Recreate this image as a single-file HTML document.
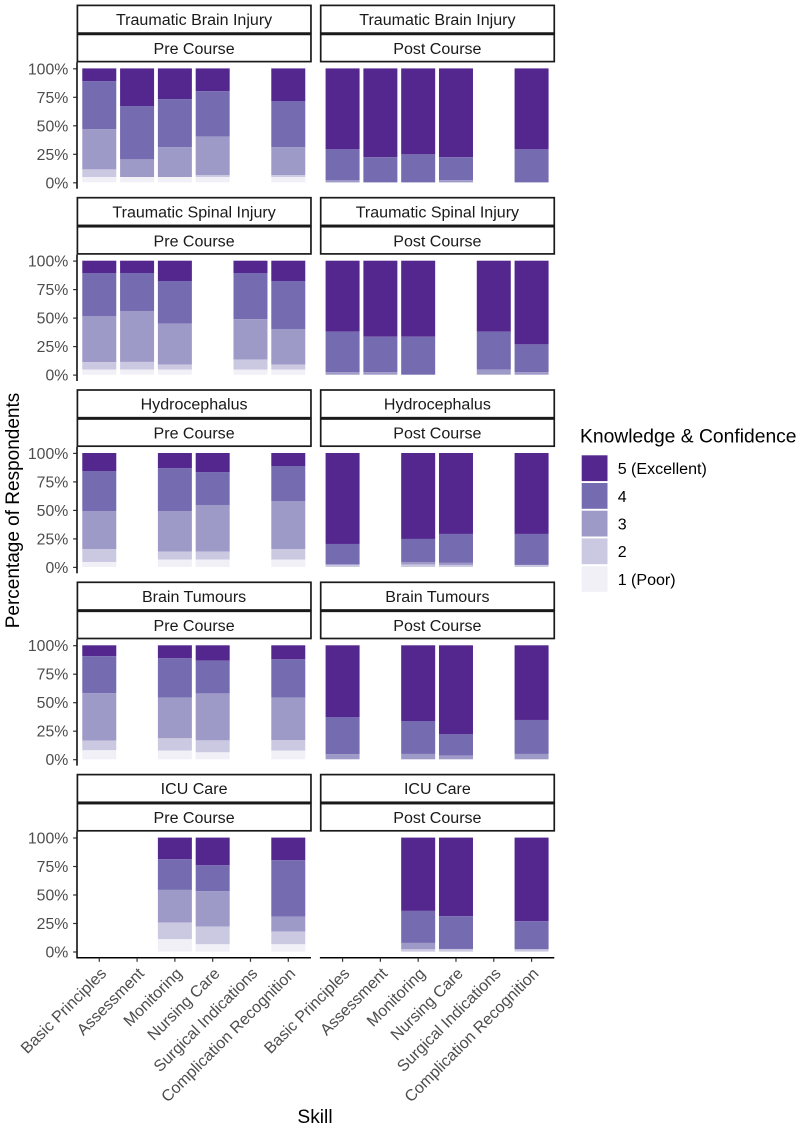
<!DOCTYPE html>
<html lang="en">
<head>
<meta charset="utf-8">
<title>Knowledge and confidence by skill, pre and post course</title>
<style>
html,body{margin:0;padding:0;background:#fff;}
svg{display:block;font-family:"Liberation Sans",Arial,sans-serif;}
</style>
</head>
<body>
<svg id="chart" width="799" height="1128" viewBox="0 0 799 1128" xmlns="http://www.w3.org/2000/svg"></svg>
<script>
// Chart data: each bar lists percent for level 5, 4, 3, 2, 1; null = no bar for that skill.
const skills = ["Basic Principles", "Assessment", "Monitoring", "Nursing Care", "Surgical Indications", "Complication Recognition"];
const topics = ["Traumatic Brain Injury", "Traumatic Spinal Injury", "Hydrocephalus", "Brain Tumours", "ICU Care"];
const courses = ["Pre Course", "Post Course"];
const levels = ["5 (Excellent)", "4", "3", "2", "1 (Poor)"];
const levelColors = ["#54278f", "#756bb1", "#9e9ac8", "#cbc9e2", "#f2f0f7"];
const yTicks = [0, 25, 50, 75, 100];
const yTickLabels = ["0%", "25%", "50%", "75%", "100%"];

const tbiPre = [[11.1,42.1,35.4,6.7,4.7],[33,46.8,15.5,0,4.7],[26.9,42.1,26.3,0,4.7],[19.9,40,33.6,1.8,4.7],null,[28.6,40.4,24.6,1.7,4.7]];
const tbiPost = [[71,26.9,2.1,0,0],[77.8,22.2,0,0,0],[75.4,24.6,0,0,0],[77.8,20.2,2,0,0],null,[71,29,0,0,0]];
const tsiPre = [[10.8,37.7,40.4,6.7,4.4],[10.8,33.3,44.7,6.7,4.5],[17.8,37.4,36,4.4,4.4],null,[10.8,40.4,35.6,8.8,4.4],[17.8,42.1,31.3,4.4,4.4]];
const tsiPost = [[62.3,35.4,2.3,0,0],[66.7,31,2.3,0,0],[66.7,33.3,0,0,0],null,[62.3,33.3,4.4,0,0],[73.4,24.3,2.3,0,0]];
const hydroPre = [[15.8,35.1,33.3,11.4,4.4],null,[13.2,37.7,35.7,7,6.4],[16.7,28.9,40.9,7,6.5],null,[11.4,30.7,42.1,9.4,6.4]];
const hydroPost = [[79.8,18.1,0,2.1,0],null,[75.4,20.2,2.3,2.1,0],[71,25.4,2,1.6,0],null,[71,27.2,0,1.8,0]];
const tumourPre = [[9.6,32.5,41.5,8.5,7.9],null,[11.4,34.5,35.7,10.8,7.6],[13.5,28.7,41.2,10.5,6.1],null,[12.3,33.6,37.4,9.1,7.6]];
const tumourPost = [[62.9,32.5,4.6,0,0],null,[66.4,28.9,4.7,0,0],[77.8,19,3.2,0,0],null,[65.5,29.8,4.7,0,0]];
const icuPre = [null,null,[19,26.9,28.7,14.6,10.8],[24.3,22.8,31,15.5,6.4],null,[19.9,49.4,13.2,11.1,6.4]];
const icuPost = [null,null,[64.3,28.1,5.6,2,0],[69,28.7,0,2.3,0],null,[73.4,24.6,0,2,0]];
const panelValues = [[tbiPre, tbiPost], [tsiPre, tsiPost], [hydroPre, hydroPost], [tumourPre, tumourPost], [icuPre, icuPost]];

const NS = "http://www.w3.org/2000/svg";
const svg = document.getElementById("chart");
const ROW_STEP = 192.3, PLOT_TOP = 68.4, PLOT_H = 114, PANEL_LEFT = [76.6, 319.9], BAND = 37.8;

function xScale(col, i) { return PANEL_LEFT[col] + (0.6 + i) * BAND; }
function yScale(row, pct) { return PLOT_TOP + row * ROW_STEP + PLOT_H * (1 - pct / 100); }
function slug(s) { return s.toLowerCase().replace(/[^a-z0-9]+/g, "-").replace(/^-|-$/g, ""); }

function make(parent, tag, attrs, text) {
  const e = document.createElementNS(NS, tag);
  for (const k in attrs) e.setAttribute(k, attrs[k]);
  if (text !== undefined) e.textContent = text;
  parent.appendChild(e);
  return e;
}

topics.forEach(function (topic, row) {
  const off = row * ROW_STEP;
  courses.forEach(function (course, col) {
    const left = PANEL_LEFT[col];
    const right = left + 6.2 * BAND;
    const prefix = slug(topic) + "-" + slug(course);

    const g = make(svg, "g", {});
    
    

    // facet strips
    const s1 = make(g, "rect", { x: left + 0.8, y: 5.4 + off, width: right - left - 0.8, height: 27.7, fill: "#fff", stroke: "#1a1a1a", "stroke-width": 1.7 });
    
    
    const s2 = make(g, "rect", { x: left + 0.8, y: 34.4 + off, width: right - left - 0.8, height: 27.2, fill: "#fff", stroke: "#1a1a1a", "stroke-width": 1.7 });
    
    
    const t1 = make(g, "text", { x: (left + right) / 2 + 0.3, y: 25 + off, "text-anchor": "middle", "font-size": 16.05, fill: "#1a1a1a" }, topic);
    
    
    const t2 = make(g, "text", { x: (left + right) / 2 + 0.3, y: 54 + off, "text-anchor": "middle", "font-size": 16.05, fill: "#1a1a1a" }, course);
    
    

    // stacked bars
    panelValues[row][col].forEach(function (bar, i) {
      if (!bar) return;
      let cum = 100;
      bar.forEach(function (v, l) {
        if (v <= 0) return;
        const yTop = yScale(row, cum);
        const yBot = yScale(row, cum - v);
        const r = make(g, "rect", { x: xScale(col, i) - 17, y: yTop, width: 34, height: yBot - yTop, fill: levelColors[l] });
        
        
        cum -= v;
      });
    });

    // left axis on the first column
    if (col === 0) {
      const ax = make(g, "line", { x1: left + 0.4, x2: left + 0.4, y1: 62.3 + off, y2: 188.7 + off + (row === 4 ? 0.4 : 0), stroke: "#000", "stroke-width": 1.5 });
      
      
      yTicks.forEach(function (t, k) {
        const yy = yScale(row, t) + 0.4;
        const tk = make(g, "line", { x1: left - 3.5, x2: left, y1: yy, y2: yy, stroke: "#333", "stroke-width": 1.2 });
        
        
        const lb = make(g, "text", { x: 68.3, y: yy + 5.5, "text-anchor": "end", "font-size": 15.8, fill: "#4d4d4d" }, yTickLabels[k]);
        
        
      });
    }

    // x axis on the bottom row
    if (row === topics.length - 1) {
      const base = 957.8;
      const ax = make(g, "line", { x1: left, x2: right, y1: base, y2: base, stroke: "#000", "stroke-width": 1.5 });
      
      
      skills.forEach(function (skill, i) {
        const xx = xScale(col, i);
        const tk = make(g, "line", { x1: xx, x2: xx, y1: base, y2: base + 4, stroke: "#333", "stroke-width": 1.2 });
        
        
        const ax2 = xx + 8, ay2 = 974.5;
        const lb = make(g, "text", { x: ax2, y: ay2, "text-anchor": "end", "font-size": 16.05, fill: "#4d4d4d", transform: "rotate(-45 " + ax2 + " " + ay2 + ")" }, skill);
        
        
      });
    }
  });
});

// axis titles
const yTitle = make(svg, "text", { x: 19, y: 510.5, "text-anchor": "middle", "font-size": 19, fill: "#000", transform: "rotate(-90 19 510.5)" }, "Percentage of Respondents");


const xTitle = make(svg, "text", { x: 315, y: 1123, "text-anchor": "middle", "font-size": 19.2, fill: "#000" }, "Skill");



// legend
const legend = make(svg, "g", {});


const legendTitle = make(legend, "text", { x: 580, y: 442.5, "font-size": 19.3, fill: "#000" }, "Knowledge & Confidence");


levels.forEach(function (label, l) {
  const yy = 455.3 + l * 27.7;
  const sw = make(legend, "rect", { x: 581.7, y: yy, width: 25.8, height: 25.8, fill: levelColors[l] });
  
  
  const tx = make(legend, "text", { x: 617.7, y: yy + 18.8, "font-size": 16.05, fill: "#000" }, label);
  
  
});
</script>
</body>
</html>
